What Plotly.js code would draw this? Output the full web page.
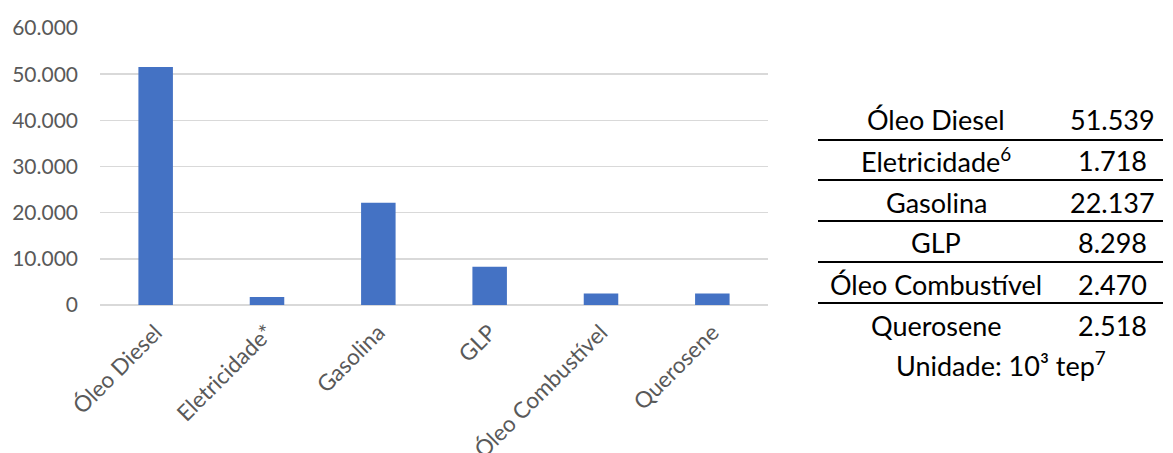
<!DOCTYPE html>
<html>
<head>
<meta charset="utf-8">
<script src="https://cdn.plot.ly/plotly-3.0.1.min.js"></script>
<style>
  html, body { margin: 0; padding: 0; background: #fff; }
  #chart { width: 1173px; height: 453px; }
</style>
</head>
<body>
<div id="chart"></div>
<script>
// Consumo final por fonte (10³ tep)
const categories = ['Óleo Diesel', 'Eletricidade*', 'Gasolina', 'GLP', 'Óleo Combustível', 'Querosene'];
const tableLabels = ['Óleo Diesel', 'Eletricidade<sup>6</sup>', 'Gasolina', 'GLP', 'Óleo Combustível', 'Querosene'];
const values = [51539, 1718, 22137, 8298, 2470, 2518];
const unitNote = 'Unidade: 10³ tep<sup>7</sup>';
const yTicks = [0, 10000, 20000, 30000, 40000, 50000, 60000];

// plot area in pixels, used to place the side table in paper coordinates
const W = 1173, H = 453;
const M = { l: 100, r: 405, t: 28, b: 148 };
const pw = W - M.l - M.r, ph = H - M.t - M.b;
const px = X => (X - M.l) / pw;
const py = Y => (H - M.b - Y) / ph;

const fmt = v => v.toString().replace(/\B(?=(\d{3})+(?!\d))/g, '.');

const tableFont = { family: 'Lato, Calibri, sans-serif', size: 27, color: '#000' };
const rowY = [120, 160, 202, 242, 284, 325];
const lineY = [140, 180, 221, 262, 303];

const annotations = [];
tableLabels.forEach((lab, i) => {
  annotations.push({ xref: 'paper', yref: 'paper', x: px(936), y: py(rowY[i]),
    text: lab, showarrow: false, xanchor: 'center', yanchor: 'middle', font: tableFont });
  annotations.push({ xref: 'paper', yref: 'paper', x: px(1112), y: py(rowY[i]),
    text: fmt(values[i]), showarrow: false, xanchor: 'center', yanchor: 'middle', font: tableFont });
});
annotations.push({ xref: 'paper', yref: 'paper', x: px(1001), y: py(364),
  text: unitNote, showarrow: false, xanchor: 'center', yanchor: 'middle', font: tableFont });

const shapes = lineY.map(Y => ({
  type: 'line', xref: 'paper', yref: 'paper',
  x0: px(818), x1: px(1163), y0: py(Y), y1: py(Y),
  line: { color: '#000', width: 2 }
}));

const trace = {
  type: 'bar',
  x: categories,
  y: values,
  marker: { color: '#4472C4' },
  hoverinfo: 'x+y'
};

const axisFont = { family: 'Lato, Calibri, sans-serif', size: 21, color: '#595959' };

const layout = {
  width: W, height: H,
  margin: M,
  separators: ',.',
  paper_bgcolor: '#fff',
  plot_bgcolor: '#fff',
  bargap: 0.69,
  showlegend: false,
  xaxis: {
    tickangle: -45,
    tickfont: Object.assign({}, axisFont, { size: 22.5 }),
    ticklabelstandoff: 9,
    showgrid: false,
    showline: false,
    ticks: '',
    fixedrange: true
  },
  yaxis: {
    range: [0, 60000],
    tickvals: yTicks,
    tickformat: ',d',
    tickfont: axisFont,
    gridcolor: '#D9D9D9',
    gridwidth: 1.5,
    zeroline: true,
    zerolinecolor: '#D9D9D9',
    zerolinewidth: 1.5,
    showline: false,
    ticks: '',
    ticklabelstandoff: 21,
    fixedrange: true
  },
  annotations: annotations,
  shapes: shapes
};

Plotly.newPlot('chart', [trace], layout, { displayModeBar: false, staticPlot: true });
</script>
</body>
</html>
